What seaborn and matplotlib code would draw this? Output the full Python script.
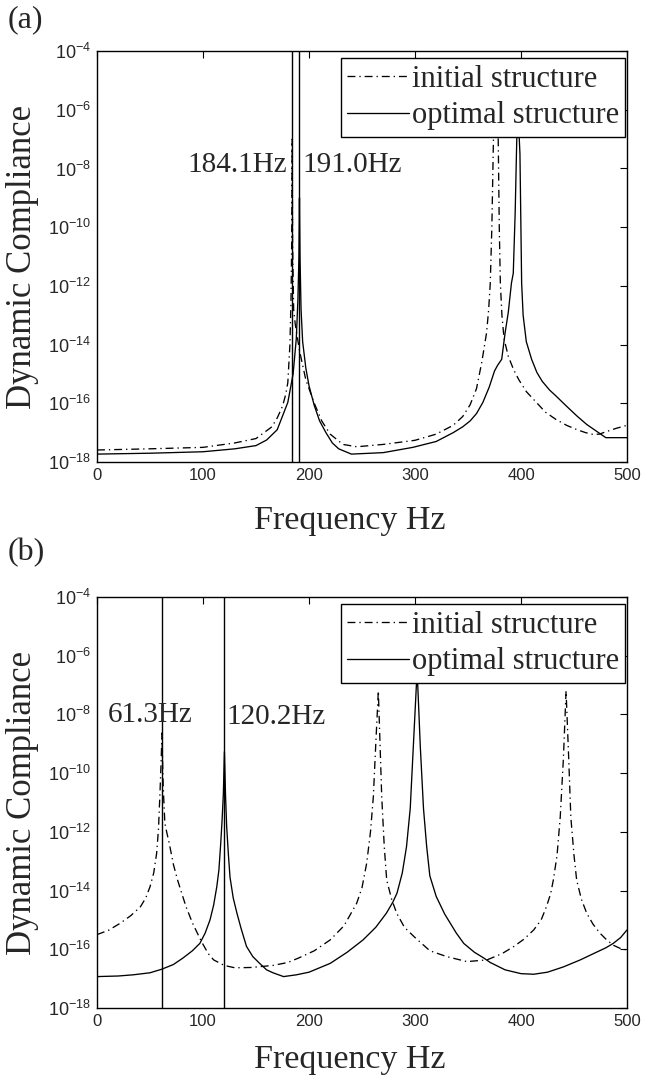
import matplotlib
matplotlib.use("Agg")
import matplotlib.pyplot as plt
import seaborn as sns
import numpy as np
import pandas as pd

# ---- data ---------------------------------------------------------------
# compliance is given as the base-10 exponent read on the log axis
# (a) first design case
FREQ_A_INIT = [0, 50, 100, 130, 150, 165, 170, 175, 178, 180, 182, 183, 183.7, 184.1,
               184.5, 185.5, 187, 191, 197, 205, 212, 220, 232, 245, 270, 300, 320,
               336, 345, 352, 358, 363, 367.5, 369.5, 371, 372.5, 374, 376.5, 378.5,
               379.5, 380.5, 382, 384, 388, 393, 398, 405, 414, 423, 433, 443, 453,
               461, 468, 474, 480, 490, 500]
LOG_A_INIT = [-17.59, -17.55, -17.5, -17.35, -17.2, -16.8, -16.5, -16.1, -15.7, -15.3,
              -14.0, -12.5, -10.5, -7.0, -10.5, -12.8, -13.3, -14.2, -15.2, -16.0,
              -16.6, -17.05, -17.4, -17.48, -17.4, -17.26, -17.05, -16.75, -16.45,
              -16.05, -15.5, -14.6, -13.6, -12.8, -11.9, -10.0, -7.0, -4.3, -7.0,
              -10.0, -11.9, -13.0, -13.8, -14.4, -14.85, -15.2, -15.6, -15.95, -16.3,
              -16.55, -16.75, -16.9, -17.0, -17.06, -17.05, -16.97, -16.85, -16.75]

FREQ_A_OPT = [0, 50, 100, 130, 150, 160, 170, 180, 185, 188, 189.5, 190.5, 191.0,
              191.5, 192.5, 194, 197, 200, 205, 210, 216, 222, 228, 240, 270, 298,
              320, 336, 345, 352, 358, 364, 370, 375, 378, 381.8, 385, 388, 391,
              392.7, 394.5, 396, 397.5, 399, 400.6, 402, 405, 410, 415, 420, 427,
              433, 443, 453, 462, 472, 480, 500]
LOG_A_OPT = [-17.73, -17.7, -17.65, -17.55, -17.44, -17.25, -16.9, -15.97, -15.0,
             -13.8, -12.5, -11.0, -9.0, -11.0, -12.8, -13.9, -14.8, -15.4, -16.08,
             -16.6, -17.0, -17.35, -17.55, -17.73, -17.68, -17.5, -17.3, -17.0, -16.8,
             -16.6, -16.35, -15.97, -15.45, -14.9, -14.7, -14.5, -13.6, -12.9, -11.9,
             -11.57, -9.5, -7.0, -6.3, -7.5, -11.9, -13.0, -13.9, -14.5, -14.95,
             -15.25, -15.55, -15.75, -16.1, -16.44, -16.72, -16.97, -17.17, -17.17]

MARKS_A = [184.1, 191.0]
MARK_TEXT_A = ['184.1Hz', '191.0Hz']

# (b) second design case
FREQ_B_INIT = [0, 11, 22, 32, 41, 46, 50, 53.5, 56.3, 58, 59.4, 60.5, 61.3, 62, 62.5,
               64, 65.7, 68.2, 72, 76, 80, 84, 90, 98.7, 105, 110, 120, 130, 145, 166,
               180, 190, 205, 220, 233, 245, 250, 254.4, 258, 260.7, 263, 265.4, 267,
               268.6, 271, 273.3, 278, 282.7, 290, 300, 314, 330, 349, 368, 382, 393,
               403, 412, 419, 424, 428, 430.5, 434, 437, 440, 442.5, 445, 447, 450,
               452.5, 457, 462, 468, 474.5, 480, 487, 493, 500]
LOG_B_INIT = [-15.5, -15.35, -15.11, -14.85, -14.55, -14.25, -13.87, -13.4, -12.72,
              -11.9, -10.68, -9.6, -8.63, -9.8, -10.5, -11.7, -12.0, -12.4, -13.1,
              -13.64, -14.1, -14.55, -15.1, -15.75, -16.15, -16.36, -16.55, -16.63,
              -16.62, -16.55, -16.45, -16.3, -16.05, -15.68, -15.2, -14.43, -13.9,
              -13.07, -12.0, -10.8, -9.0, -7.2, -9.0, -10.8, -12.5, -13.64, -14.3,
              -14.77, -15.25, -15.6, -16.05, -16.25, -16.42, -16.36, -16.15, -15.91,
              -15.65, -15.34, -15.0, -14.55, -14.1, -13.64, -12.8, -11.5, -9.5, -7.2,
              -9.5, -11.5, -12.8, -13.64, -14.3, -14.77, -15.15, -15.45, -15.65,
              -15.86, -15.96, -16.03]

FREQ_B_OPT = [0, 20, 34, 50, 61, 72, 81, 90, 97, 102, 106.6, 110, 113, 115, 116.7, 118,
              119.2, 120.2, 121.2, 122.3, 124, 125.5, 128.5, 132, 136, 141, 147, 154,
              160, 166, 176, 188, 200, 220, 236, 251, 263, 273, 279, 283, 288, 292,
              295.5, 298.4, 302, 305, 308, 311, 314, 320, 328, 339, 346, 356, 365, 371,
              385, 400, 412, 425, 440, 456, 470, 480, 487, 494, 500]
LOG_B_OPT = [-16.93, -16.91, -16.87, -16.8, -16.68, -16.52, -16.3, -16.05, -15.8,
             -15.45, -15.0, -14.5, -13.87, -13.3, -12.4, -11.6, -10.7, -9.27, -10.7,
             -11.8, -12.8, -13.55, -14.25, -14.77, -15.3, -15.9, -16.25, -16.5, -16.7,
             -16.8, -16.93, -16.87, -16.78, -16.48, -16.1, -15.68, -15.25, -14.77,
             -14.4, -14.09, -13.4, -12.5, -11.2, -9.1, -6.5, -9.1, -11.2, -12.5, -13.5,
             -14.2, -14.8, -15.45, -15.8, -16.1, -16.3, -16.45, -16.7, -16.83, -16.85,
             -16.78, -16.6, -16.36, -16.12, -15.95, -15.8, -15.6, -15.34]

MARKS_B = [61.3, 120.2]
MARK_TEXT_B = ['61.3Hz', '120.2Hz']

X_TICKS = [0, 100, 200, 300, 400, 500]
Y_EXPONENTS = [-4, -6, -8, -10, -12, -14, -16, -18]

# ---- style ---------------------------------------------------------------
sns.set_theme(style="white")
plt.rcParams.update({
    'font.family': ['Liberation Serif', 'DejaVu Serif'],
    'axes.unicode_minus': False,
    'mathtext.fontset': 'custom',
    'mathtext.rm': 'Liberation Sans',
    'mathtext.it': 'Liberation Sans',
    'axes.edgecolor': 'black',
    'axes.linewidth': 1.0,
})
SANS = ['Liberation Sans', 'DejaVu Sans']
DASHDOT = (0, (6, 3, 1, 3))


def draw_panel(ax, f_init, e_init, f_opt, e_opt, marks, mark_text, text_pos, xlab_y):
    df_i = pd.DataFrame({'Frequency': f_init, 'Compliance': 10.0 ** np.array(e_init)})
    df_o = pd.DataFrame({'Frequency': f_opt, 'Compliance': 10.0 ** np.array(e_opt)})
    sns.lineplot(data=df_i, x='Frequency', y='Compliance', ax=ax, color='black',
                 linewidth=0.95, linestyle=DASHDOT, label='initial structure')
    sns.lineplot(data=df_o, x='Frequency', y='Compliance', ax=ax, color='black',
                 linewidth=0.95, linestyle='-', label='optimal structure')
    for m in marks:
        ax.axvline(m, color='black', linewidth=1.0)

    ax.set_yscale('log')
    ax.set_xlim(0, 500)
    ax.set_ylim(1e-18, 1e-4)
    ax.set_xticks(X_TICKS)
    ax.set_xticklabels([str(t) for t in X_TICKS], fontfamily=SANS, fontsize=12)
    ax.set_yticks([10.0 ** e for e in Y_EXPONENTS])
    ax.set_yticklabels([r'$10^{%d}$' % e for e in Y_EXPONENTS], fontsize=13)
    ax.minorticks_off()
    ax.tick_params(direction='in', top=True, right=True, length=5, width=0.8,
                   color='black', pad=4)

    ax.set_xlabel('Frequency Hz', fontsize=24.5, va='center')
    ax.set_ylabel('Dynamic Compliance', fontsize=25, va='center')
    ax.xaxis.set_label_coords(0.477, xlab_y)
    ax.yaxis.set_label_coords(-0.1415, 0.5)

    for (tx, ty, ha), t in zip(text_pos, mark_text):
        ax.text(tx, ty, t, ha=ha, va='center', fontsize=21)

    leg = ax.legend(loc='upper right', bbox_to_anchor=(0.997, 0.983),
                    borderaxespad=0, fontsize=22, frameon=True, fancybox=False,
                    framealpha=1, edgecolor='black', handlelength=2.0,
                    handletextpad=0.1, borderpad=0.22, labelspacing=0.25)
    leg.get_frame().set_linewidth(1.0)
    for s in ax.spines.values():
        s.set_visible(True)


fig = plt.figure(figsize=(6.45, 10.79), dpi=100)
ax_a = fig.add_axes([0.1504, 0.5718, 0.8217, 0.3809])
ax_b = fig.add_axes([0.1504, 0.0658, 0.8217, 0.3809])

draw_panel(ax_a, FREQ_A_INIT, LOG_A_INIT, FREQ_A_OPT, LOG_A_OPT, MARKS_A, MARK_TEXT_A,
           [(179, 1.3e-8, 'right'), (194, 1.3e-8, 'left')], -0.143)
draw_panel(ax_b, FREQ_B_INIT, LOG_B_INIT, FREQ_B_OPT, LOG_B_OPT, MARKS_B, MARK_TEXT_B,
           [(10, 9.5e-9, 'left'), (122, 8.5e-9, 'left')], -0.125)

fig.text(8 / 645, 1 - 20 / 1079, '(a)', fontsize=23, va='center', ha='left')
fig.text(8 / 645, 1 - 553 / 1079, '(b)', fontsize=23, va='center', ha='left')

fig.savefig('out.png', dpi=100)
